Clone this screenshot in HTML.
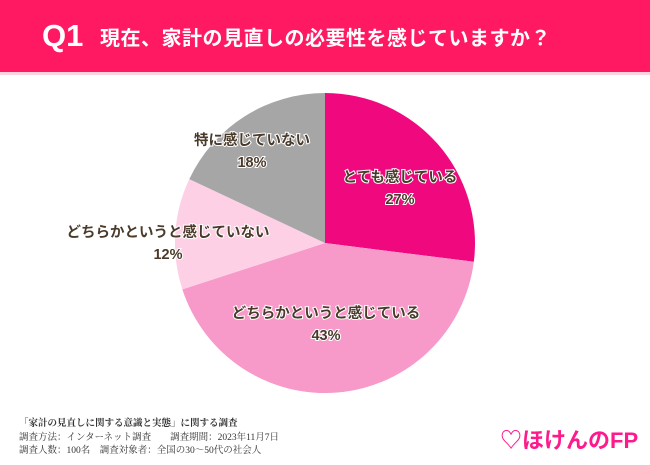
<!DOCTYPE html>
<html><head><meta charset="utf-8"><style>
body{margin:0;width:650px;height:465px;background:#fff;overflow:hidden;font-family:"Liberation Sans","Noto Sans CJK JP",sans-serif;position:relative}
.hdr{position:absolute;left:0;top:0;width:650px;height:72px;background:#ff1962}
.hl{position:absolute;left:0;top:72px;width:650px;height:3px;background:#fbd3e0}
.q{position:absolute;left:42px;top:18px;color:#fff;font-size:31px;font-weight:bold}
.t{position:absolute;left:100px;top:22px;color:#fff;font-size:20px;font-weight:bold;letter-spacing:0.5px}
.foot{position:absolute;left:19px;font-family:"Liberation Serif","Noto Serif CJK SC",serif;font-size:9.5px;color:#333;white-space:nowrap}
.logo{position:absolute;left:500px;top:423px;color:#ff1a8c;font-size:22px;font-weight:bold}
</style></head><body>
<div class="hdr"></div>
<div class="hl"></div>
<div class="q">Q1</div>
<div class="t">現在、家計の見直しの必要性を感じていますか？</div>
<svg id="pie" width="650" height="465" style="position:absolute;left:0;top:0"></svg>
<div class="foot" style="top:415px;font-weight:bold">「家計の見直しに関する意識と実態」に関する調査</div>
<div class="foot" style="top:429px">調査方法：インターネット調査　　調査期間：2023年11月7日</div>
<div class="foot" style="top:442px">調査人数：100名　調査対象者：全国の30～50代の社会人</div>
<div class="logo">♡ほけんのFP</div>
<script>
const categories=["とても感じている","どちらかというと感じている","どちらかというと感じていない","特に感じていない"];
const values=[27,43,12,18];
const colors=["#f0087f","#f79ac9","#fdd0e6","#a6a6a6"];
const labelPos=[[400,177],[326,313],[168,232],[252,140]];
const svg=document.getElementById('pie');
const NS="http://www.w3.org/2000/svg";
const cx=325,cy=243,r=150;
const total=values.reduce((a,b)=>a+b,0);
let a0=-Math.PI/2;
values.forEach((v,i)=>{
  const a1=a0+v/total*2*Math.PI;
  const p=document.createElementNS(NS,'path');
  const large=(a1-a0)>Math.PI?1:0;
  p.setAttribute('d',`M${cx},${cy}L${cx+r*Math.cos(a0)},${cy+r*Math.sin(a0)}A${r},${r} 0 ${large} 1 ${cx+r*Math.cos(a1)},${cy+r*Math.sin(a1)}Z`);
  p.setAttribute('fill',colors[i]);
  
  
  svg.appendChild(p);
  a0=a1;
});
values.forEach((v,i)=>{
  const [x,y]=labelPos[i];
  [[categories[i],y+5],[v+'%',y+27]].forEach(([s,yy],k)=>{
    const t=document.createElementNS(NS,'text');
    t.setAttribute('x',x);t.setAttribute('y',yy);
    t.setAttribute('text-anchor','middle');
    t.setAttribute('font-size','14.5');t.setAttribute('font-weight','bold');
    t.setAttribute('fill','#4a3a2a');
    t.setAttribute('stroke','#fff');t.setAttribute('stroke-width','2');
    t.setAttribute('paint-order','stroke');
    t.textContent=s;
    
    
    svg.appendChild(t);
  });
});
</script>
</body></html>
